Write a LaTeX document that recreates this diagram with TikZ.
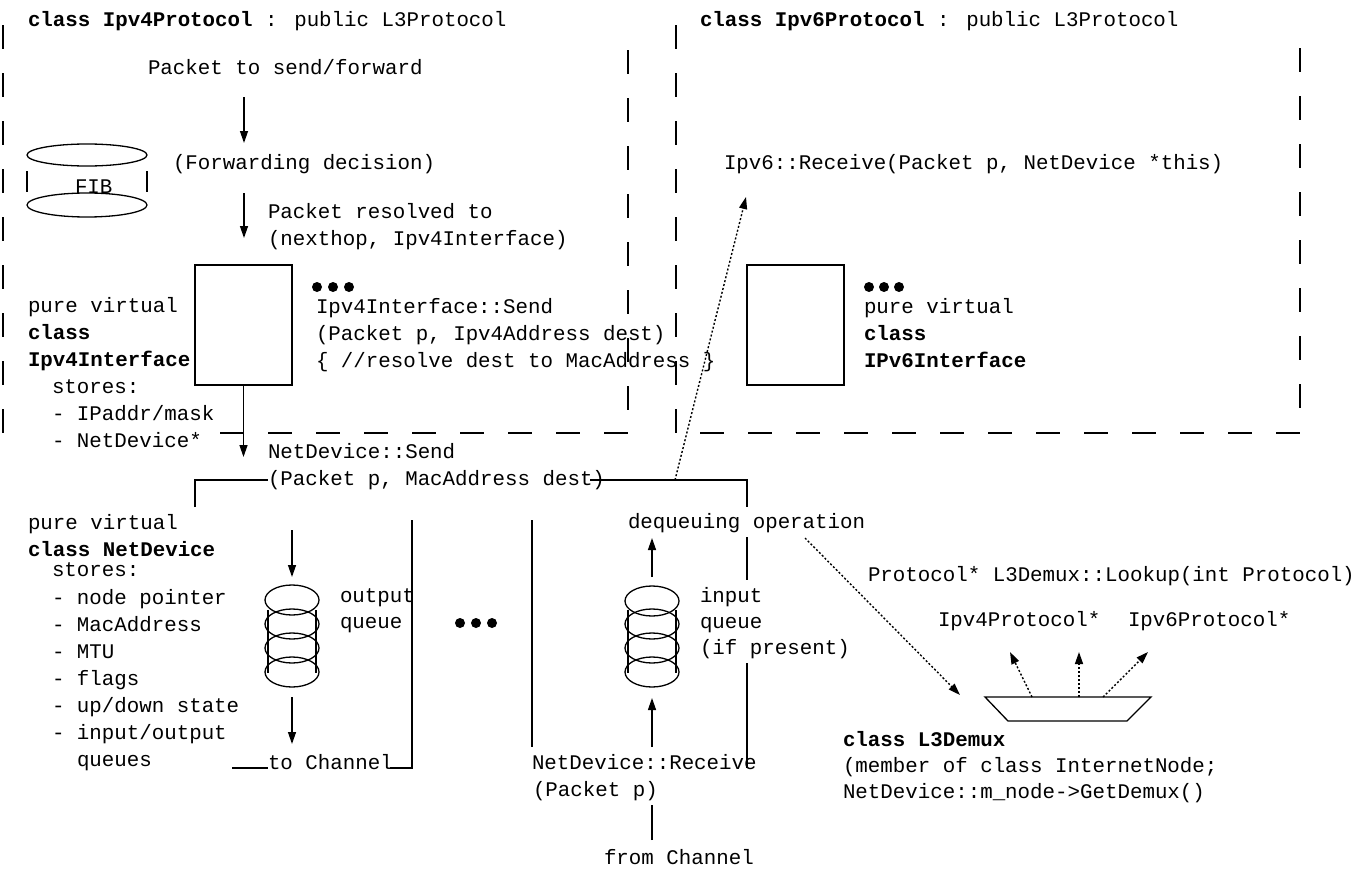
\documentclass[tikz,border=0pt]{standalone}
\usepackage{fontspec}
\setmainfont{Liberation Mono}
\usetikzlibrary{arrows.meta}
\begin{document}
\begin{tikzpicture}[x=1pt,y=-1pt,
  every node/.style={inner sep=0pt, outer sep=0pt},
  txt/.style={anchor=base west, font=\fontsize{20.8}{27}\selectfont},
  bx/.style={draw, line width=1.3pt},
  ln/.style={line width=1.3pt},
  arr/.style={line width=1.3pt, -{Triangle[length=12pt,width=8pt]}},
  dotarr/.style={line width=1.4pt, dash pattern=on 2pt off 2pt, -{Triangle[length=12pt,width=8pt]}},
  dsh/.style={line width=1.6pt, dash pattern=on 24pt off 24pt},
  dotc/.style={circle, fill, minimum size=10pt}]
\useasboundingbox (0,0) rectangle (1371,870);

% ---------- dashed class boxes ----------
\draw[dsh] (3,25) -- (3,433);
\draw[dsh] (220,433) -- (628,433);
\draw[dsh] (628,50) -- (628,410);
\draw[dsh] (676,25) -- (676,433);
\draw[dsh] (700,433) -- (1300,433);
\draw[dsh] (1300,48) -- (1300,409);

% ---------- Ipv4Protocol ----------
\node[txt] (h4) at (28,26) {\bfseries class Ipv4Protocol\mdseries{} : public L3Protocol};
\node[txt] (pts) at (148,74) {Packet to send/forward};
\coordinate (a1s) at (244,97);
\coordinate (a1e) at (244,143);
\draw[arr] (a1s) -- (a1e);
\node[txt] (fwd) at (173,169) {(Forwarding decision)};
% FIB
\draw[ln] (87,155) ellipse [x radius=60, y radius=11];
\draw[ln] (87,205) ellipse [x radius=60, y radius=12];
\draw[ln] (27,171) -- (27,192);
\draw[ln] (147,171) -- (147,192);
\node[txt] (fib) at (75,193) {FIB};
\coordinate (a2s) at (244,193);
\coordinate (a2e) at (244,238);
\draw[arr] (a2s) -- (a2e);
\node[txt] (res1) at (268,218) {Packet resolved to};
\node[txt] (res2) at (268,245) {(nexthop, Ipv4Interface)};
% Ipv4Interface
\node[bx, minimum width=97pt, minimum height=120pt] (if4) at (243.5,325) {};
\node[dotc] (d1) at (317,287) {};
\node[dotc] (d2) at (333,287) {};
\node[dotc] (d3) at (349,287) {};
\node[txt] (s1) at (316,313) {Ipv4Interface::Send};
\node[txt] (s2) at (316,340) {(Packet p, Ipv4Address dest)};
\node[txt] (s3) at (316,367) {\{ //resolve dest to MacAddress \}};
\node[txt] (l1) at (28,312) {pure virtual};
\node[txt] (l2) at (28,339) {\bfseries class};
\node[txt] (l3) at (28,366) {\bfseries Ipv4Interface};
\node[txt] (l4) at (52,393) {stores:};
\node[txt] (l5) at (52,420) {- IPaddr/mask};
\node[txt] (l6) at (52,447) {- NetDevice*};
\coordinate (a3e) at (243.5,457);
\draw[arr] (if4.south) -- (a3e);

% ---------- Ipv6Protocol ----------
\node[txt] (h6) at (700,26) {\bfseries class Ipv6Protocol\mdseries{} : public L3Protocol};
\node[txt] (rcv6) at (724,169) {Ipv6::Receive(Packet p, NetDevice *this)};
\node[bx, minimum width=97pt, minimum height=120pt] (if6) at (795.5,325) {};
\node[dotc] (e1) at (869,287) {};
\node[dotc] (e2) at (884,287) {};
\node[dotc] (e3) at (899,287) {};
\node[txt] (r1) at (864,313) {pure virtual};
\node[txt] (r2) at (864,340) {\bfseries class};
\node[txt] (r3) at (864,367) {\bfseries IPv6Interface};

% ---------- NetDevice ----------
\node[txt] (nds1) at (268,458) {NetDevice::Send};
\node[txt] (nds2) at (268,485) {(Packet p, MacAddress dest)};
\draw[ln] (195,507) -- (195,480) -- (nds2.west |- 0,480);
\draw[ln] (590,480) -- (747,480) -- (747,507);
\draw[ln] (747,537) -- (747,580);
\draw[ln] (747,663) -- (747,768);
\draw[ln] (412,520) -- (412,768) -- (390,768);
\draw[ln] (232,768) -- (268,768);
\draw[ln] (532,520) -- (532,747);

\node[txt] (n1) at (28,529) {pure virtual};
\node[txt] (n2) at (28,556) {\bfseries class NetDevice};
\node[txt] (n3) at (52,576) {stores:};
\node[txt] (n4) at (52,604) {- node pointer};
\node[txt] (n5) at (52,631) {- MacAddress};
\node[txt] (n6) at (52,658) {- MTU};
\node[txt] (n7) at (52,685) {- flags};
\node[txt] (n8) at (52,712) {- up/down state};
\node[txt] (n9) at (52,739) {- input/output};
\node[txt] (n10) at (77,766) {queues};

% output queue
\foreach \yy in {600,624,648,672} \draw[ln] (292,\yy) ellipse [x radius=27, y radius=15];
\draw[ln] (268,610) -- (268,673);
\draw[ln] (316,610) -- (316,673);
\coordinate (oq1) at (292,530);
\coordinate (oq2) at (292,577);
\coordinate (oq3) at (292,697);
\coordinate (oq4) at (292,744);
\draw[arr] (oq1) -- (oq2);
\draw[arr] (oq3) -- (oq4);
\node[txt] (oq) at (340,602) {output};
\node[txt] (oqb) at (340,628) {queue};
\node[txt] (toch) at (268,769) {to Channel};

\node[dotc] (m1) at (460,623) {};
\node[dotc] (m2) at (476,623) {};
\node[dotc] (m3) at (492,623) {};

% input queue
\foreach \yy in {601,624,648,672} \draw[ln] (652,\yy) ellipse [x radius=27, y radius=15];
\draw[ln] (628,610) -- (628,673);
\draw[ln] (676,610) -- (676,673);
\coordinate (iq1) at (652,577);
\coordinate (iq2) at (652,538);
\coordinate (iq3) at (652,747);
\coordinate (iq4) at (652,698);
\coordinate (iq5) at (652,840);
\coordinate (iq6) at (652,805);
\draw[arr] (iq1) -- (iq2);
\draw[arr] (iq3) -- (iq4);
\draw[ln] (iq5) -- (iq6);
\node[txt] (deq) at (628,528) {dequeuing operation};
\node[txt] (iq) at (700,602) {input};
\node[txt] (iqb) at (700,628) {queue};
\node[txt] (iqc) at (700,654) {(if present)};
\node[txt] (ndr1) at (532,769) {NetDevice::Receive};
\node[txt] (ndr2) at (533,796) {(Packet p)};
\node[txt] (fch) at (604,864) {from Channel};

% dotted upcall to Ipv6
\coordinate (up1) at (675,480);
\coordinate (up2) at (746,197);
\draw[dotarr] (up1) -- (up2);

% ---------- L3Demux ----------
\node[txt] (lk) at (868,581) {Protocol* L3Demux::Lookup(int Protocol)};
\node[txt] (p4) at (938,626) {Ipv4Protocol*};
\node[txt] (p6) at (1128,626) {Ipv6Protocol*};
\draw[ln] (985,697) -- (1151,697) -- (1127,721) -- (1008,721) -- cycle;
\coordinate (dm) at (960,695);
\coordinate (dq) at (805,538);
\draw[dotarr] (dq) -- (dm);
\coordinate (o1s) at (1032,697);
\coordinate (o1e) at (1010,652);
\coordinate (o2s) at (1079,697);
\coordinate (o2e) at (1079,652);
\coordinate (o3s) at (1103,697);
\coordinate (o3e) at (1148,652);
\draw[dotarr] (o1s) -- (o1e);
\draw[dotarr] (o2s) -- (o2e);
\draw[dotarr] (o3s) -- (o3e);
\node[txt] (dx1) at (843,746) {\bfseries class L3Demux};
\node[txt] (dx2) at (843,772) {(member of class InternetNode;};
\node[txt] (dx3) at (843,798) {NetDevice::m\_node->GetDemux()};
\end{tikzpicture}
\end{document}
